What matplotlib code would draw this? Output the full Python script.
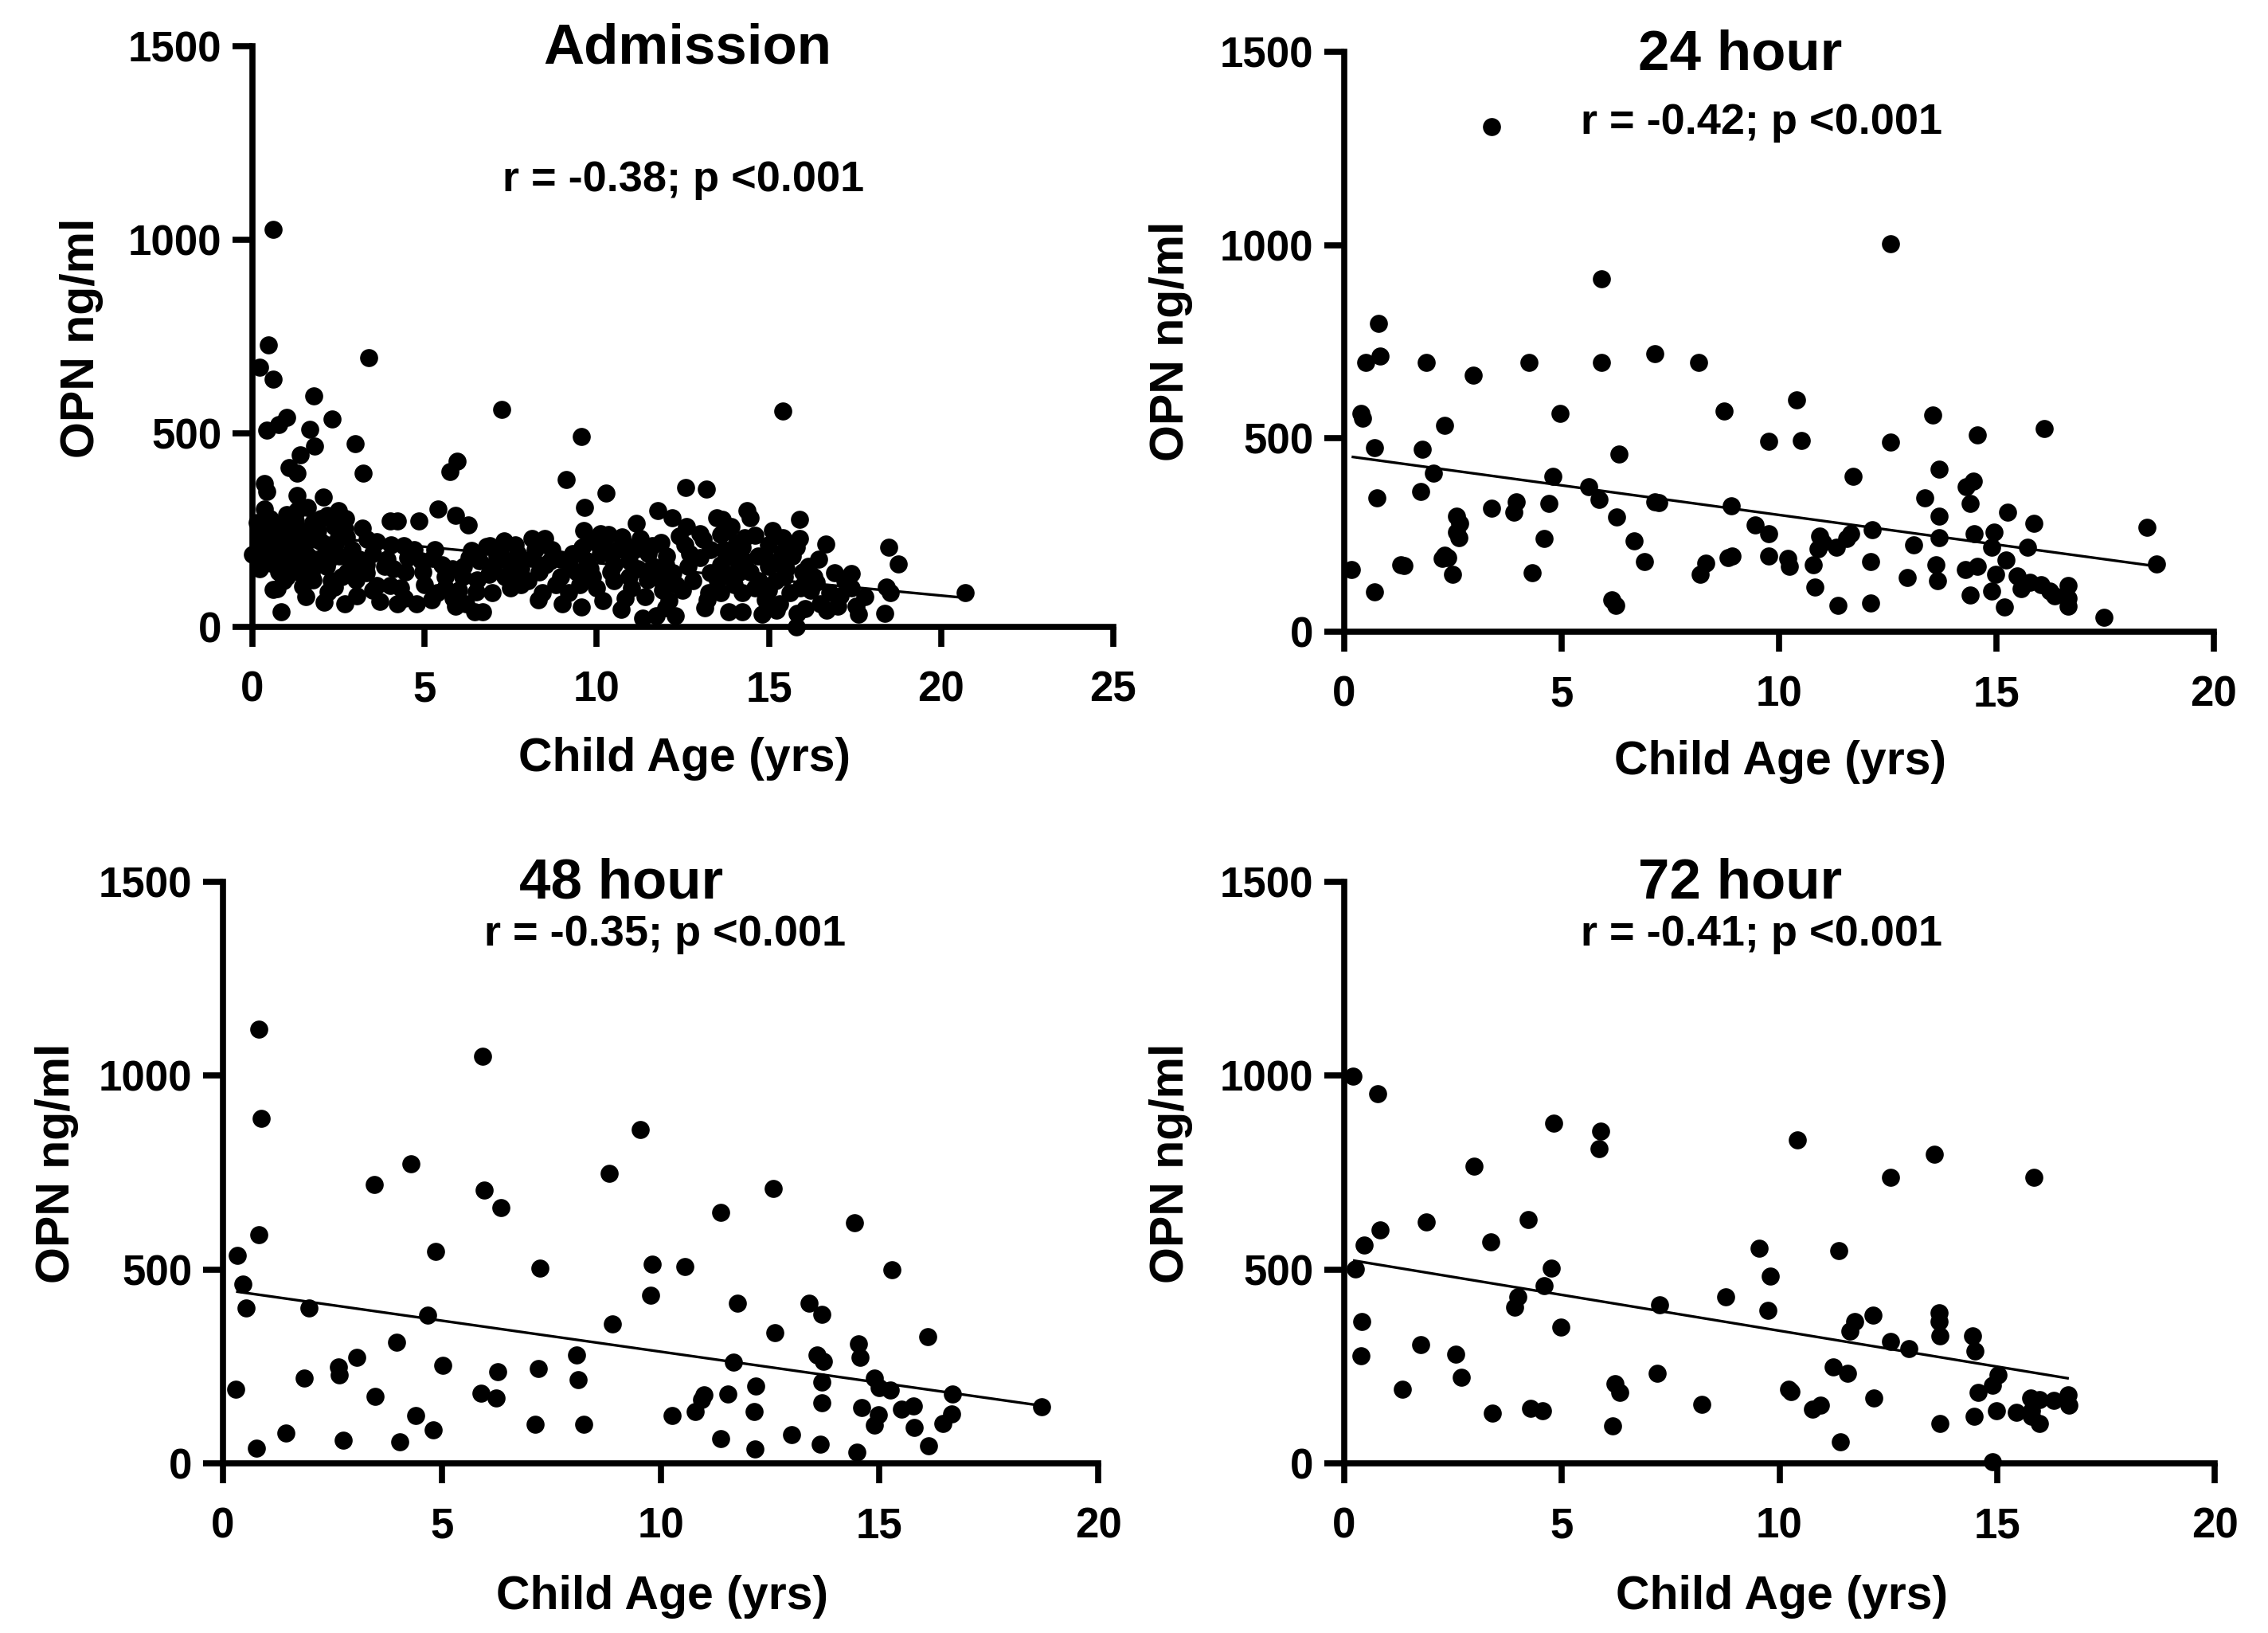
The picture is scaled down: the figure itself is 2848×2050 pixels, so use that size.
import matplotlib
matplotlib.use("Agg")
import matplotlib.pyplot as plt
import numpy as np

# ---------------- data ----------------
titles = ["Admission", "24 hour", "48 hour", "72 hour"]
stat_texts = ["r = -0.38; p <0.001", "r = -0.42; p <0.001",
              "r = -0.35; p <0.001", "r = -0.41; p <0.001"]
x_label = "Child Age (yrs)"
y_label = "OPN ng/ml"
x_max = [25, 20, 20, 20]
y_ticks = [0, 500, 1000, 1500]

# linear-fit lines (intercept, slope)
fit_intercept = [249, 455, 448, 527]
fit_slope = [-8.4, -15.3, -16.0, -18.5]

adm_age = [0.59, 0.46, 0.21, 0.59, 3.38, 1.79, 7.24, 15.4, 2.32, 0.99,
           0.76, 0.42, 1.67, 1.8, 2.98, 9.56, 1.38, 1.07, 1.3, 3.22,
           5.95, 5.74, 0.34, 0.42, 9.12, 10.27, 12.58, 13.18, 1.3, 2.05,
           9.64, 0.34, 5.4, 11.76, 5.9, 12.18, 6.26, 4.0, 4.22, 4.84,
           11.14, 14.37, 14.45, 13.64, 15.89, 18.48, 18.75, 20.7, 17.39, 18.37,
           17.61, 15.79, 11.33, 11.72, 12.29, 0.84, 0.59,
           1.6, 2.18, 1.26, 0.72, 0.34, 2.68, 3.34, 4.03, 0.57, 0.0,
           0.53, 0.76, 1.34, 0.72, 1.55, 2.07, 2.68, 3.03, 3.0, 3.6,
           4.0, 3.84, 4.41, 4.76, 4.45, 5.22, 4.95, 5.37, 5.9, 6.45,
           6.37, 6.14, 6.53, 5.83, 2.15, 1.76, 2.53, 1.84, 1.15, 1.53,
           2.38, 2.72, 0.99, 0.45, 1.61, 2.15, 2.76, 1.68, 2.38, 1.38,
           0.6, 0.9, 1.1, 1.4, 1.9, 2.0, 2.4, 2.9, 3.1, 3.5,
           1.2, 1.9, 2.6, 0.9, 1.45, 2.2, 3.3, 3.9, 4.3, 4.7,
           5.0, 5.6, 6.0, 5.5, 6.6, 3.7, 2.9, 0.25, 1.0, 2.5,
           0.15, 1.75, 4.5, 5.2, 6.1, 3.2, 2.3, 1.1, 0.4, 0.8,
           6.8, 7.3, 7.64, 8.11, 8.49, 8.11, 8.64, 8.95, 6.87, 7.33,
           7.8, 8.41, 9.18, 9.56, 10.18, 10.83, 11.41, 12.1, 12.49, 13.14,
           13.25, 6.68, 6.95, 9.87, 10.41, 10.95, 11.64, 12.03, 12.64, 11.87,
           9.72, 10.26, 10.95, 11.48, 8.95, 9.41, 7.41, 7.1, 8.33, 9.62,
           9.58, 10.33, 10.72, 11.26, 11.87, 12.56, 13.1, 13.49,
           7.0, 7.8, 8.2, 8.8, 9.3, 9.9, 10.0, 10.6, 11.0, 11.5,
           12.2, 12.8, 13.0, 7.5, 9.0, 10.5, 11.9, 12.4, 13.3, 10.1,
           14.59, 15.89, 15.79, 16.64, 16.45, 17.53, 17.79, 13.83, 14.22, 14.8,
           15.21, 15.83, 16.68, 16.99, 16.06, 13.6, 14.22, 14.99, 15.6, 16.21,
           17.06, 13.91, 14.45, 14.99, 15.45, 15.99, 13.76, 14.22, 14.99, 15.37,
           16.14, 13.6, 14.07, 14.68, 15.22, 15.68, 16.76, 16.37, 18.4, 18.52,
           13.9, 14.3, 14.7, 15.1, 15.5, 13.5, 14.0, 15.3, 16.5, 17.2,
           16.9, 13.7, 14.9, 16.0, 17.4,
           0.3, 0.5, 0.7, 0.9, 1.2, 1.5, 1.7, 2.0, 2.2, 2.5,
           2.8, 1.0, 0.2, 2.7, 1.3,
           3.3, 3.6, 4.1, 4.4, 4.9, 5.3, 5.8, 6.3, 6.5, 5.6,
           4.2, 3.5, 6.9, 6.2,
           7.2, 7.7, 8.0, 8.5, 8.7, 9.2, 9.5, 9.8, 7.6, 8.3,
           10.2, 10.5, 10.8, 11.2, 11.6, 12.0, 12.3, 12.7, 13.0, 13.3,
           13.6, 14.0, 14.3, 14.6, 14.9, 15.2, 15.6, 15.9, 12.6, 13.8,
           11.1, 10.1, 14.1, 15.4, 13.2, 12.0, 10.7, 16.3]
adm_opn = [1027, 728, 670, 640, 696, 596, 561, 557, 537, 542,
           522, 508, 511, 468, 474, 491, 445, 412, 398, 398,
           429, 401, 370, 350, 381, 346, 360, 355, 339, 336,
           308, 305, 305, 301, 288, 281, 263, 274, 274, 274,
           268, 301, 281, 277, 277, 205, 162, 88, 138, 34,
           33, 0, 22, 29, 29, 40, 97,
           308, 288, 274, 263, 250, 253, 226, 212, 219, 188,
           164, 143, 143, 98, 78, 64, 60, 81, 122, 108,
           108, 157, 74, 60, 143, 177, 143, 88, 54, 40,
           198, 157, 122, 74, 157, 122, 184, 226, 212, 246,
           260, 233, 184, 212, 184, 198, 143, 157, 102, 184,
           240, 230, 255, 230, 250, 280, 215, 200, 175, 190,
           160, 175, 130, 120, 105, 90, 140, 175, 100, 200,
           110, 130, 95, 160, 170, 65, 155, 230, 290, 300,
           270, 270, 180, 70, 130, 255, 120, 185, 185, 200,
           208, 222, 212, 229, 229, 177, 170, 174, 136, 129,
           109, 88, 88, 52, 67, 74, 78, 67, 95, 50,
           88, 40, 88, 129, 143, 129, 157, 184, 157, 122,
           170, 191, 170, 122, 129, 143, 170, 184, 143, 250,
           206, 239, 232, 229, 219, 212, 226, 281,
           160, 150, 200, 110, 190, 220, 100, 200, 100, 190,
           140, 120, 180, 100, 60, 160, 95, 235, 140, 190,
           236, 229, 205, 215, 174, 54, 78, 40, 40, 33,
           43, 36, 43, 54, 47, 88, 88, 95, 88, 95,
           81, 136, 143, 157, 129, 143, 184, 205, 212, 191,
           157, 239, 219, 184, 164, 184, 88, 115, 102, 88,
           260, 170, 120, 250, 150, 120, 110, 60, 60, 120,
           140, 200, 70, 110, 100,
           210, 280, 180, 150, 270, 200, 140, 220, 170, 230,
           180, 130, 150, 280, 300,
           160, 220, 150, 210, 170, 200, 150, 180, 90, 100,
           60, 95, 210, 60,
           195, 190, 120, 160, 200, 160, 110, 150, 140, 70,
           210, 120, 215, 150, 210, 160, 110, 190, 240, 200,
           160, 180, 230, 100, 180, 120, 210, 100, 260, 250,
           200, 240, 140, 230, 70, 50, 45, 130]

h24_age = [3.38, 12.56, 5.91, 0.78, 0.83, 0.5, 1.88, 2.96, 4.24, 5.91,
           7.15, 8.15, 10.4, 4.96, 0.38, 0.42, 8.74, 13.53, 16.09, 2.3,
           14.56, 9.77, 10.52, 12.56, 0.7, 1.8, 6.32, 13.68, 11.7, 4.79,
           2.05, 14.47, 14.3, 5.62, 1.75, 0.75, 5.86, 13.36, 14.39, 3.96,
           4.71, 3.91, 3.38, 7.15, 7.23, 8.9, 13.68, 15.26, 2.58, 2.66,
           6.26, 15.86, 18.47, 9.45, 9.77, 12.15, 2.58, 2.63, 4.59, 6.66,
           13.69, 14.48, 14.94, 10.93, 11.01, 11.56, 11.31, 10.9, 13.09, 14.89,
           15.72, 11.65, 18.69, 0.17, 1.3, 1.38, 2.3, 2.38, 2.25, 6.91,
           8.32, 8.19, 8.82, 8.92, 9.77, 10.2, 10.23, 10.78, 12.11, 13.61,
           14.56, 14.28, 15.22, 15.47, 14.98, 12.94, 13.64, 15.77, 15.56, 16.02,
           16.22, 16.64, 16.34, 16.64, 16.64, 14.89, 14.39, 15.19, 10.82, 2.5,
           4.33, 0.7, 6.16, 6.24, 11.36, 12.1, 17.47]
h24_opn = [1306, 1003, 913, 798, 712, 697, 697, 664, 697, 697,
           719, 697, 600, 565, 565, 552, 570, 561, 525, 534,
           508, 492, 495, 491, 475, 472, 459, 420, 402, 402,
           409, 389, 376, 376, 363, 346, 343, 347, 332, 336,
           332, 310, 319, 336, 334, 326, 299, 310, 299, 280,
           297, 281, 270, 277, 253, 264, 257, 244, 241, 235,
           244, 253, 257, 248, 231, 241, 218, 214, 224, 218,
           218, 253, 175, 161, 174, 172, 198, 191, 189, 182,
           178, 148, 191, 195, 195, 189, 169, 174, 182, 174,
           168, 161, 185, 145, 148, 141, 132, 128, 112, 121,
           106, 119, 92, 86, 66, 106, 95, 63, 116, 148,
           152, 103, 82, 69, 69, 75, 37]

h48_age = [0.82, 5.94, 0.87, 9.53, 4.29, 8.82, 3.45, 12.58, 5.97, 6.35,
           11.38, 14.43, 0.82, 4.86, 0.33, 9.81, 10.55, 7.25, 15.28, 0.46,
           9.78, 0.53, 1.96, 11.76, 13.4, 13.69, 4.67, 8.9, 12.61, 16.11,
           3.97, 14.53, 14.56, 8.08, 13.57, 13.72, 3.05, 5.03, 2.64, 2.65,
           7.2, 6.28, 11.67, 1.85, 8.11, 14.89, 15.0, 15.25, 13.69, 12.17,
           0.3, 11.0, 10.93, 11.54, 5.9, 6.25, 3.48, 16.67, 13.69, 15.5,
           15.78, 14.59, 16.65, 16.45, 14.97, 14.89, 12.14, 10.8, 10.27, 4.4,
           18.71, 7.14, 8.24, 4.8, 1.43, 15.79, 12.99, 2.75, 4.04, 11.38,
           13.65, 16.13, 0.77, 12.15, 14.48]
h48_opn = [1120, 1049, 889, 860, 773, 747, 720, 709, 705, 660,
           648, 621, 589, 547, 536, 513, 507, 503, 499, 463,
           433, 400, 400, 413, 413, 385, 383, 360, 336, 327,
           312, 309, 273, 280, 280, 263, 273, 253, 249, 229,
           245, 236, 260, 219, 216, 219, 196, 189, 209, 200,
           192, 176, 165, 179, 180, 169, 173, 179, 156, 140,
           147, 143, 127, 103, 125, 99, 133, 133, 123, 123,
           145, 100, 100, 87, 79, 92, 73, 60, 56, 63,
           49, 45, 39, 36, 29]

h72_age = [0.2, 0.76, 4.81, 5.89, 5.86, 10.42, 13.56, 2.99, 12.56, 15.85,
           4.23, 1.88, 0.83, 0.46, 3.37, 9.53, 11.37, 0.25, 4.75, 9.79,
           4.6, 8.76, 3.98, 3.92, 7.25, 9.74, 13.66, 13.66, 12.15, 11.73,
           11.62, 0.4, 4.98, 13.69, 14.44, 14.49, 1.76, 2.57, 0.38, 12.56,
           12.98, 11.24, 11.57, 7.19, 2.69, 15.02, 14.9, 6.22, 6.34, 1.33,
           10.21, 10.26, 14.57, 12.17, 8.22, 16.63, 16.65, 15.77, 15.97, 16.31,
           15.8, 15.8, 15.44, 14.99, 14.47, 10.76, 10.95, 4.28, 4.56, 3.4,
           13.69, 15.97, 6.17, 11.4, 14.9]
h72_opn = [998, 954, 877, 857, 811, 835, 797, 767, 737, 737,
           628, 622, 602, 564, 572, 555, 548, 502, 504, 482,
           458, 429, 429, 402, 409, 395, 389, 365, 382, 365,
           342, 366, 351, 329, 329, 289, 306, 282, 278, 315,
           295, 249, 233, 232, 222, 229, 202, 206, 182, 192,
           192, 185, 182, 169, 153, 176, 149, 169, 165, 162,
           136, 122, 132, 136, 122, 140, 149, 142, 136, 129,
           102, 102, 96, 56, 5]

ages = [adm_age, h24_age, h48_age, h72_age]
opns = [adm_opn, h24_opn, h48_opn, h72_opn]

# ---------------- layout (pixels) ----------------
W, H, DPI = 2848, 2050, 100
plt.rcParams["font.family"] = ["Liberation Sans", "DejaVu Sans"]
plt.rcParams["font.weight"] = "bold"

# (left, right, y of value 0, y of value 1500)
boxes = [(317, 1398, 787, 58), (1688, 2780, 793, 65),
         (280, 1379, 1837, 1107), (1688, 2781, 1837, 1107)]
title_pos = [(863, 80), (2185, 88), (780, 1128), (2185, 1128)]
stat_pos = [(858, 240), (2212, 168), (835, 1187), (2212, 1187)]
xlabel_pos = [(860, 968), (2236, 972), (832, 2020), (2238, 2020)]
ylabel_pos = [(103, 424), (1470, 428), (72, 1460), (1470, 1460)]

fig = plt.figure(figsize=(W / DPI, H / DPI), dpi=DPI)
fig.patch.set_facecolor("white")


def fx(px):
    return px / W


def fy(py):
    return 1 - py / H


for i in range(4):
    l, r, b, t = boxes[i]
    ax = fig.add_axes([fx(l), fy(b), (r - l) / W, (b - t) / H])
    ax.scatter(ages[i], opns[i], s=266, c="black", linewidths=0,
               clip_on=False, zorder=3)
    xs = np.array([min(ages[i]), max(ages[i])])
    ax.plot(xs, fit_intercept[i] + fit_slope[i] * xs, color="black",
            lw=2.4, zorder=4, solid_capstyle="butt")
    ax.set_xlim(0, x_max[i])
    ax.set_ylim(0, 1500)
    ax.set_xticks(np.arange(0, x_max[i] + 1, 5))
    ax.set_yticks(y_ticks)
    for side in ("top", "right"):
        ax.spines[side].set_visible(False)
    for side in ("left", "bottom"):
        ax.spines[side].set_linewidth(5.5)
        ax.spines[side].set_capstyle("projecting")
    ax.tick_params(axis="both", direction="out", length=18, width=5.5,
                   labelsize=38)
    ax.tick_params(axis="x", pad=21)
    ax.tick_params(axis="y", pad=10)
    for lab in ax.get_xticklabels() + ax.get_yticklabels():
        lab.set_fontweight("bold")
    ax.set_facecolor("none")

    fig.text(fx(title_pos[i][0]), fy(title_pos[i][1]), titles[i],
             ha="center", va="baseline", fontsize=51, fontweight="bold")
    fig.text(fx(stat_pos[i][0]), fy(stat_pos[i][1]), stat_texts[i],
             ha="center", va="baseline", fontsize=39, fontweight="bold")
    fig.text(fx(xlabel_pos[i][0]), fy(xlabel_pos[i][1]), x_label,
             ha="center", va="baseline", fontsize=42.5, fontweight="bold")
    fig.text(fx(ylabel_pos[i][0]), fy(ylabel_pos[i][1]), y_label,
             ha="center", va="center", rotation=90, fontsize=42.5,
             fontweight="bold")

fig.savefig("out.png", dpi=DPI, facecolor="white")
